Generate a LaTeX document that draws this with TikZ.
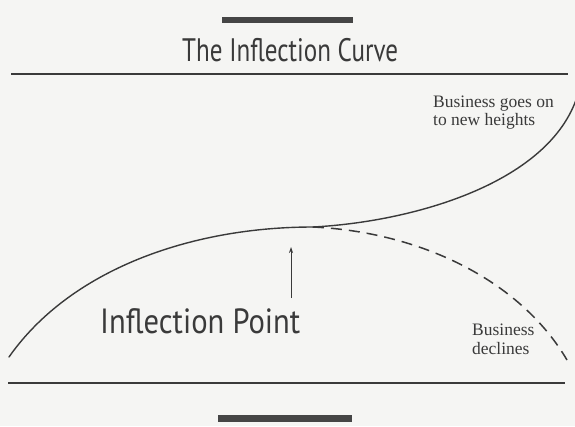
\documentclass[tikz,border=0pt]{standalone}
\usepackage{fontspec}
\usepackage{graphicx}
\setmainfont{Liberation Serif}
\newfontfamily\headfont{PT Sans}
\usetikzlibrary{arrows.meta}
\definecolor{ink}{HTML}{3A3A3A}
\definecolor{barink}{HTML}{454545}
\definecolor{paper}{HTML}{F5F5F3}
\begin{document}
\begin{tikzpicture}[x=1pt,y=-1pt,
  rulestyle/.style={draw=ink, line width=1.1pt},
  barstyle/.style={fill=barink},
  curvestyle/.style={draw=ink, line width=1.4pt, line cap=round},
  declinestyle/.style={draw=ink, line width=1.5pt, dash pattern=on 11pt off 7pt},
  pointerstyle/.style={draw=ink, line width=0.8pt, -{Stealth[length=6pt,width=4pt]}},
  bigtext/.style={inner sep=0pt, anchor=base west, text=ink},
  smalltext/.style={inner sep=0pt, anchor=base west, text=ink, font=\fontsize{17.5}{20}\selectfont}]
\useasboundingbox (0,0) rectangle (575,426);
\fill[paper] (0,0) rectangle (575,426);

% decorative bars
\fill[barstyle] (222,17) rectangle (353,23);
\fill[barstyle] (218,415) rectangle (352,422);

% rules
\draw[rulestyle] (11,74) -- (568,74);
\draw[rulestyle] (8,383) -- (565,383);

% title
\node[bigtext] (title) at (182,61)
  {\resizebox{216pt}{\height}{\headfont\fontsize{32.5}{36}\selectfont The Inflection Curve}};

% curve
\coordinate (start) at (9,357);
\coordinate (infl) at (313,227);
\coordinate (high) at (576,100);
\coordinate (low) at (567,360);
\draw[curvestyle] (start) .. controls (70,270) and (190,227) .. (infl);
\draw[curvestyle] (infl) .. controls (410,222) and (545,185) .. (high);
\draw[declinestyle] (infl) .. controls (420,232) and (520,280) .. (low);

% labels
\node[smalltext] (up1) at (433,107) {Business goes on};
\node[smalltext] (up2) at (433,125) {to new heights};
\node[smalltext] (down1) at (472,335) {Business};
\node[smalltext] (down2) at (472,354) {declines};

\node[bigtext] (ip) at (100,333)
  {\resizebox{200pt}{\height}{\headfont\fontsize{35}{40}\selectfont Inflection Point}};

% pointer
\coordinate (tail) at (291,298);
\coordinate (tip) at (291,247);
\draw[pointerstyle] (tail) -- (tip);
\end{tikzpicture}
\end{document}
